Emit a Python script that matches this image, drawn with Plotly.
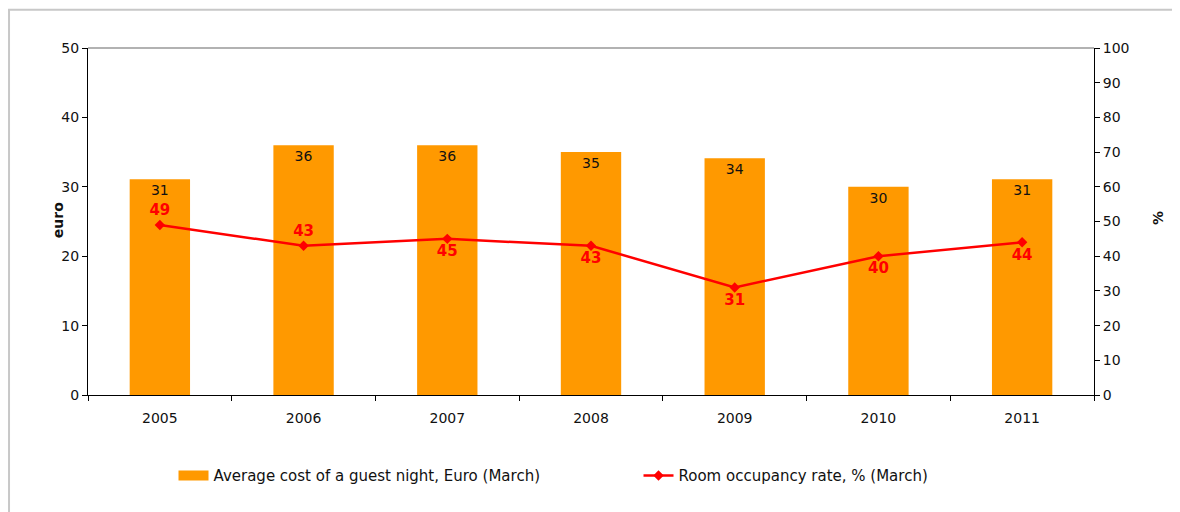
import plotly.graph_objects as go

years = ["2005", "2006", "2007", "2008", "2009", "2010", "2011"]
avg_cost = [31.1, 36.0, 36.0, 35.0, 34.1, 30.0, 31.1]
occupancy = [49, 43, 45, 43, 31, 40, 44]
occ_label_pos = ["top center", "top center", "bottom center", "bottom center",
                 "bottom center", "bottom center", "bottom center"]
cost_name = "Average cost of a guest night, Euro (March)"
occ_name = "Room occupancy rate, % (March)"

FONT = "DejaVu Sans, Verdana, sans-serif"
ORANGE = "#FF9900"
RED = "#FF0000"

fig = go.Figure()
fig.add_trace(go.Bar(
    x=years, y=avg_cost, name=cost_name, showlegend=False,
    marker=dict(color=ORANGE, line=dict(width=0)),
    width=0.42,
    text=[f"{v:.0f}" for v in avg_cost],
    textposition="inside", insidetextanchor="end", textangle=0,
    constraintext="none",
    textfont=dict(family=FONT, size=14, color="#111111"),
    yaxis="y",
))
# legend-only entry drawing the wide orange key of the bar series
fig.add_trace(go.Scatter(
    x=[None], y=[None], name=cost_name, mode="lines",
    line=dict(color=ORANGE, width=12), hoverinfo="skip",
))
fig.add_trace(go.Scatter(
    x=years, y=occupancy, name=occ_name, mode="lines+markers+text",
    line=dict(color=RED, width=2.5),
    marker=dict(symbol="diamond", size=8, color=RED),
    text=[str(v) for v in occupancy], textposition=occ_label_pos,
    textfont=dict(family=FONT, size=15, color=RED, weight="bold"),
    yaxis="y2",
))

fig.update_layout(
    width=1172, height=504,
    margin=dict(l=80, r=86, t=40, b=117),
    paper_bgcolor="white", plot_bgcolor="white",
    font=dict(family=FONT, size=14, color="#111111"),
    xaxis=dict(
        type="category", showline=True, linecolor="#000000", linewidth=1,
        ticks="outside", tickson="boundaries", ticklen=5, tickcolor="#000000",
        showgrid=False, tickfont=dict(size=14), zeroline=False,
        ticklabelstandoff=10,
    ),
    yaxis=dict(
        range=[0, 50], dtick=10, showline=True, linecolor="#000000", linewidth=1,
        ticks="outside", ticklen=5, tickcolor="#000000", showgrid=False, zeroline=False,
        tickfont=dict(size=14),
    ),
    yaxis2=dict(
        range=[0, 100], dtick=10, overlaying="y", side="right",
        showline=True, linecolor="#000000", linewidth=1,
        ticks="outside", ticklen=5, tickcolor="#000000", showgrid=False, zeroline=False,
        tickfont=dict(size=14),
    ),
    legend=dict(
        orientation="h", x=0.085, xanchor="left", y=-0.185, yanchor="top",
        font=dict(family=FONT, size=15, color="#111111"),
        entrywidth=420, entrywidthmode="pixels",
        tracegroupgap=0, traceorder="normal",
    ),
    showlegend=True,
    annotations=[
        dict(text="<b>euro</b>", xref="paper", yref="paper", x=-0.0298, y=0.504,
             textangle=-90, showarrow=False, font=dict(size=14, color="#111111"),
             xanchor="center", yanchor="middle"),
        dict(text="<b>%</b>", xref="paper", yref="paper", x=1.0636, y=0.51,
             textangle=-90, showarrow=False, font=dict(size=14, color="#111111"),
             xanchor="center", yanchor="middle"),
    ],
    shapes=[
        dict(type="line", xref="paper", yref="paper", x0=0, x1=1, y0=1, y1=1,
             line=dict(color="#999999", width=1.5)),
        dict(type="rect", xref="paper", yref="paper", x0=-0.0785, x1=1.2,
             y0=-0.5, y1=1.11, line=dict(color="#C8C8C8", width=2),
             fillcolor="rgba(0,0,0,0)", layer="below"),
    ],
)

fig.write_html("out.html")
